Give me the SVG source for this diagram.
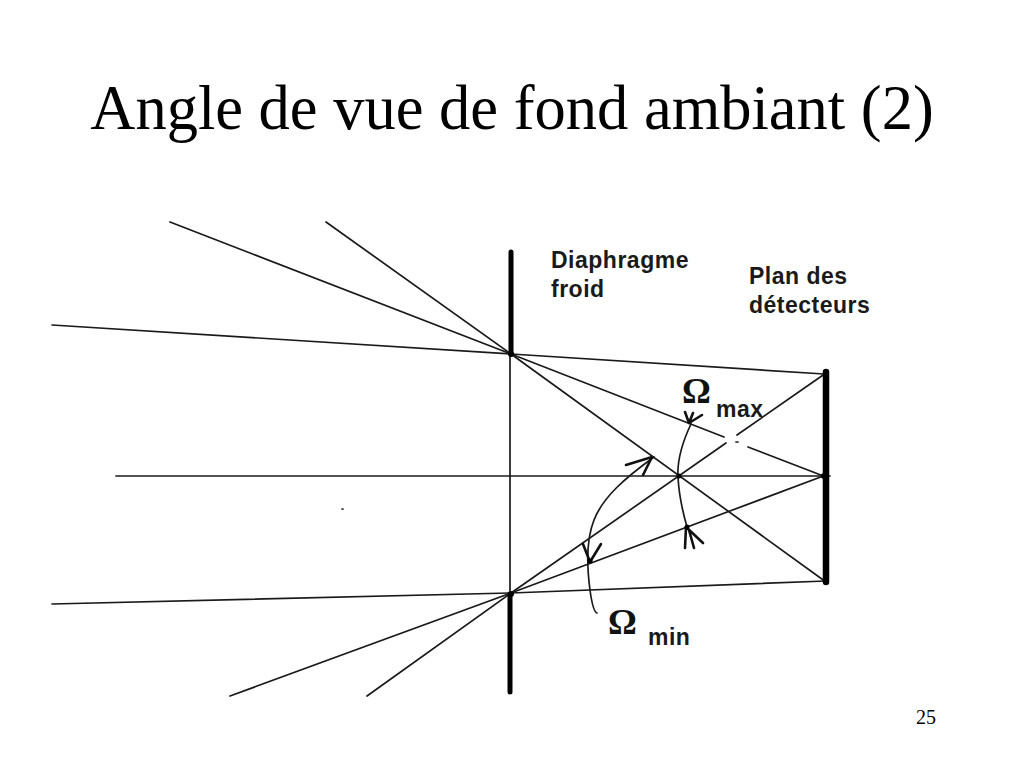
<svg xmlns="http://www.w3.org/2000/svg" width="1024" height="768" viewBox="0 0 1024 768">
<style>
.r{fill:none;stroke:#1a1a1a;stroke-width:1.7;stroke-linecap:round;stroke-linejoin:round}
.b{fill:none;stroke:#000;stroke-width:5;stroke-linecap:round}
.a{fill:none;stroke:#111;stroke-width:2.6;stroke-linecap:round;stroke-linejoin:round}
.l{font-family:"Liberation Sans",Arial,sans-serif;font-weight:bold;font-size:23px;letter-spacing:.5px;fill:#1a1a1a}
.o{font-family:"Liberation Serif","Times New Roman",serif;font-weight:bold;font-size:36px;fill:#111}
</style>
<rect width="1024" height="768" fill="#fff"/>
<text x="512" y="129" text-anchor="middle" font-family="Liberation Serif,Times New Roman,serif" font-size="62.5" fill="#000">Angle de vue de fond ambiant (2)</text>
<g id="rays">
<path class="r" d="M170 222L511 354L724 437"/>
<path class="r" d="M736 442h2"/>
<path class="r" d="M748 447L826 477"/>
<path class="r" d="M326 222L511 354L826 582"/>
<path class="r" d="M52 325L511 354L824 374"/>
<path class="r" d="M116 476H830"/>
<path class="r" d="M510 354V594"/>
<path class="r" d="M52 604L511 593L826 581"/>
<path class="r" d="M230 696L511 593L826 475"/>
<path class="r" d="M367 696L511 593L726 443"/>
<path class="r" d="M737 435L826 373"/>
<path class="r" d="M342 509h1"/>
</g>
<g id="diaphragme">
<path class="b" d="M511 252V354"/>
<path class="b" d="M510 594V692"/>
<circle cx="511" cy="354" r="3"/>
<circle cx="511" cy="594" r="3"/>
</g>
<g id="detecteurs">
<path d="M826 372V582" fill="none" stroke="#000" stroke-width="6.5" stroke-linecap="round"/>
<circle cx="824" cy="476" r="3"/>
</g>
<g id="arcs">
<path class="r" d="M691 424C682 443 677 460 678 477C679 497 683 513 687 527"/>
<path class="r" d="M654 457C625 478 603 497 594 520C588 535 586 560 590 590C592 605 594 612 597 613"/>
<circle cx="679" cy="476" r="2.5"/>
<path class="a" d="M685 412L689 423L693 413M689 423L702 415"/>
<path class="a" d="M685 548L686 527L703 543M689 530L694 548"/>
<path class="a" d="M626 465L652 457L643 475"/>
<path class="a" d="M583 544L590 562L601 544"/>
<circle cx="687" cy="527" r="2.5"/>
<circle cx="590" cy="561" r="2.5"/>
</g>
<g id="labels">
<text class="l" x="551" y="268">Diaphragme</text>
<text class="l" x="551" y="297">froid</text>
<text class="l" x="749" y="284">Plan des</text>
<text class="l" x="749" y="313">détecteurs</text>
<text class="o" x="682" y="403">Ω</text>
<text class="l" x="716" y="417">max</text>
<text class="o" x="608" y="634">Ω</text>
<text class="l" x="648" y="645">min</text>
<text x="916" y="724" font-family="Liberation Serif,Times New Roman,serif" font-size="20" fill="#000">25</text>
</g>
</svg>
